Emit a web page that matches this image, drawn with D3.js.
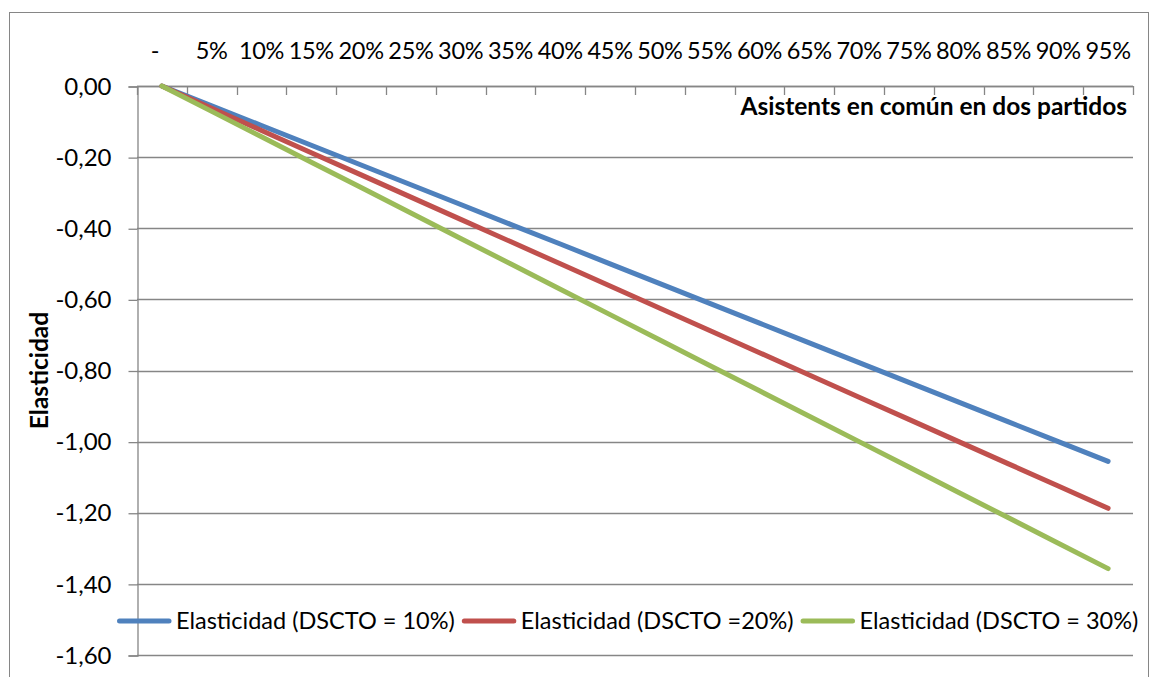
<!DOCTYPE html>
<html>
<head>
<meta charset="utf-8">
<script src="https://cdn.jsdelivr.net/npm/d3@7/dist/d3.min.js"></script>
<style>
  html, body { margin: 0; padding: 0; background: #fff; }
  svg { display: block; }
  text { font-family: Lato, "Open Sans", sans-serif; fill: #000; }
</style>
</head>
<body>
<svg id="chart" width="1150" height="677"></svg>
<script>
// Share of attendees common to both matches (category axis)
const categories = ["0%", "5%", "10%", "15%", "20%", "25%", "30%", "35%", "40%", "45%",
                    "50%", "55%", "60%", "65%", "70%", "75%", "80%", "85%", "90%", "95%"];
const categoryLabels = ["-", "5%", "10%", "15%", "20%", "25%", "30%", "35%", "40%", "45%",
                        "50%", "55%", "60%", "65%", "70%", "75%", "80%", "85%", "90%", "95%"];

// Elasticity per discount level
const elastDscto10 = [0, -0.0556, -0.1111, -0.1667, -0.2222, -0.2778, -0.3333, -0.3889, -0.4444, -0.5,
                      -0.5556, -0.6111, -0.6667, -0.7222, -0.7778, -0.8333, -0.8889, -0.9444, -1.0, -1.0556];
const elastDscto20 = [0, -0.0625, -0.125, -0.1875, -0.25, -0.3125, -0.375, -0.4375, -0.5, -0.5625,
                      -0.625, -0.6875, -0.75, -0.8125, -0.875, -0.9375, -1.0, -1.0625, -1.125, -1.1875];
const elastDscto30 = [0, -0.0714, -0.1429, -0.2143, -0.2857, -0.3571, -0.4286, -0.5, -0.5714, -0.6429,
                      -0.7143, -0.7857, -0.8571, -0.9286, -1.0, -1.0714, -1.1429, -1.2143, -1.2857, -1.3571];

const seriesNames = ["Elasticidad (DSCTO = 10%)", "Elasticidad (DSCTO =20%)", "Elasticidad (DSCTO = 30%)"];
const seriesColors = ["#4F81BD", "#C0504D", "#9BBB59"];
const yTicks = [0, -0.2, -0.4, -0.6, -0.8, -1.0, -1.2, -1.4, -1.6];

const xTitle = "Asistents en común en dos partidos";
const yTitle = "Elasticidad";

const series = [elastDscto10, elastDscto20, elastDscto30].map((vals, i) => ({
  name: seriesNames[i], color: seriesColors[i], values: vals
}));

const svg = d3.select("#chart");
const gridColor = "#868686";

// Chart frame
svg.append("rect")
  .attr("x", 9.5).attr("y", 12.5)
  .attr("width", 1139).attr("height", 700)
  .attr("fill", "#fff").attr("stroke", gridColor).attr("stroke-width", 1);

const plot = { left: 137, right: 1133, top: 86, bottom: 655 };

const x = d3.scaleBand().domain(categories).range([plot.left, plot.right]).padding(0);
const y = d3.scaleLinear().domain([-1.6, 0]).range([plot.bottom, plot.top]);
const cx = c => x(c) + x.bandwidth() / 2;

// Horizontal gridlines
svg.append("g").selectAll("line").data(yTicks).join("line")
  .attr("x1", plot.left).attr("x2", plot.right)
  .attr("y1", d => Math.round(y(d)) + 0.5).attr("y2", d => Math.round(y(d)) + 0.5)
  .attr("stroke", gridColor).attr("stroke-width", 1.3);

// Value axis (left)
const yAxis = d3.axisLeft(y).tickValues(yTicks).tickSize(9).tickPadding(17)
  .tickFormat(d => d3.format(".2f")(d).replace(".", ",").replace("−", "-"));
const gy = svg.append("g").attr("transform", `translate(${plot.left + 0.5},0.5)`).call(yAxis);
gy.select(".domain").attr("stroke", gridColor).attr("stroke-width", 1.3);
gy.selectAll(".tick line").attr("stroke", gridColor).attr("stroke-width", 1.3);
gy.selectAll(".tick text").attr("font-size", 24).attr("font-family", "Lato").attr("fill", "#000");

// Category axis (top) with tick marks between categories
const boundaries = categories.map(c => x(c)).concat([x(categories[categories.length - 1]) + x.bandwidth()]);
svg.append("line")
  .attr("x1", plot.left).attr("x2", plot.right)
  .attr("y1", plot.top + 0.5).attr("y2", plot.top + 0.5)
  .attr("stroke", gridColor).attr("stroke-width", 1.3);
svg.append("g").selectAll("line").data(boundaries).join("line")
  .attr("x1", d => Math.round(d) + 0.5).attr("x2", d => Math.round(d) + 0.5)
  .attr("y1", plot.top).attr("y2", plot.top + 9)
  .attr("stroke", gridColor).attr("stroke-width", 1.3);
svg.append("g").selectAll("text").data(categories).join("text")
  .attr("x", (d, i) => cx(d) - (categoryLabels[i] === "-" ? 7 : 0))
  .attr("y", 59)
  .attr("text-anchor", "middle")
  .attr("font-size", 23.5)
  .attr("letter-spacing", -0.3)
  .text((d, i) => categoryLabels[i]);

// Axis titles
svg.append("text")
  .attr("x", 1127).attr("y", 115)
  .attr("text-anchor", "end")
  .attr("font-size", 24.5).attr("font-weight", "bold")
  .text(xTitle);
svg.append("text")
  .attr("transform", `translate(48,${(plot.top + plot.bottom) / 2}) rotate(-90)`)
  .attr("text-anchor", "middle")
  .attr("font-size", 24.5).attr("font-weight", "bold")
  .text(yTitle);

// Series lines
const line = d3.line().x((d, i) => cx(categories[i])).y(d => y(d));
svg.append("g").selectAll("path").data(series).join("path")
  .attr("d", s => line(s.values))
  .attr("fill", "none")
  .attr("stroke", s => s.color)
  .attr("stroke-width", 5)
  .attr("stroke-linecap", "round")
  .attr("stroke-linejoin", "round");

// Legend
const legendY = 621;
const legend = svg.append("g");
let lx = 117;
series.forEach(s => {
  legend.append("line")
    .attr("x1", lx + 2.5).attr("x2", lx + 52)
    .attr("y1", legendY).attr("y2", legendY)
    .attr("stroke", s.color).attr("stroke-width", 5).attr("stroke-linecap", "round");
  const t = legend.append("text")
    .attr("x", lx + 59).attr("y", legendY + 8)
    .attr("font-size", 23.5)
    .text(s.name);
  lx = lx + 59 + t.node().getComputedTextLength() + 7;
});
</script>
</body>
</html>
